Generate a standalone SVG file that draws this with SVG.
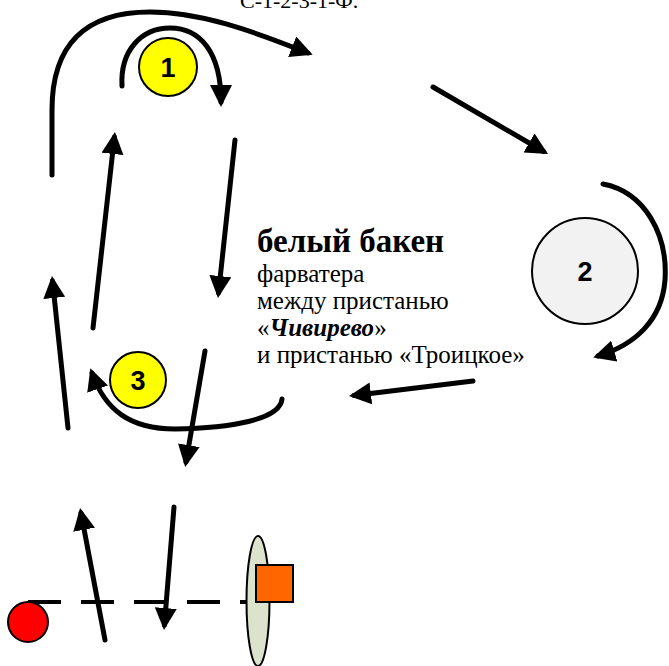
<svg xmlns="http://www.w3.org/2000/svg" width="669" height="666" viewBox="0 0 669 666">
<style>
.c{fill:none;stroke:#000;stroke-width:5;stroke-linecap:round}
.a{marker-end:url(#ah)}
.node{stroke:#000;stroke-width:2}
.num{font-family:"Liberation Sans",Arial,sans-serif;font-weight:bold;text-anchor:middle}
.t{font-family:"Liberation Serif","Times New Roman",serif;fill:#000}
</style>
<defs>
<marker id="ah" markerUnits="userSpaceOnUse" markerWidth="22" markerHeight="22" viewBox="0 0 22 22" refX="17" refY="11" orient="auto">
<path d="M0,0 L22,11 L0,22 z" fill="#000"/>
</marker>
</defs>
<text class="t" x="240" y="8" font-size="22">С-1-2-3-1-Ф.</text>
<g id="connectors">
<path class="c a" d="M52,175 L52,110 C52,45 85,12 150,12 C200,12 250,30 308,53"/>
<path class="c a" d="M122,86 C120,50 142,28 170,28 C200,28 221,52 221,102"/>
<path class="c a" d="M235,140 L218.5,293"/>
<path class="c a" d="M93,328 L114.4,137"/>
<path class="c a" d="M68,428 L52.5,281"/>
<path class="c a" d="M205,351 L186,462"/>
<path class="c a" d="M282,399 C280,420 230,428 175,429 C130,429 105,410 92,373"/>
<path class="c a" d="M603,184 C645,192 668,235 665,280 C662,320 635,345 598,356"/>
<path class="c a" d="M433,87 L543.7,151.5"/>
<path class="c a" d="M473,381 L354,395.4"/>
<path class="c a" d="M105,640 L81,513"/>
<path class="c a" d="M174,507 L164.4,625"/>
<path d="M28,602 L252,602" fill="none" stroke="#000" stroke-width="4" stroke-dasharray="33 20"/>
</g>
<g id="node1">
<circle class="node" cx="168" cy="67" r="29" fill="#ffff00"/>
<text class="num" x="168" y="77" font-size="27">1</text>
</g>
<g id="node2">
<circle class="node" cx="585" cy="271" r="53" fill="#f2f2f2"/>
<text class="num" x="585" y="281" font-size="27">2</text>
</g>
<g id="node3">
<circle class="node" cx="138" cy="380" r="28" fill="#ffff00"/>
<text class="num" x="138" y="390" font-size="27">3</text>
</g>
<g id="label">
<text class="t" x="257" y="252" font-size="33" font-weight="bold">белый бакен</text>
<text class="t" x="257" y="282" font-size="25">фарватера</text>
<text class="t" x="257" y="309" font-size="25">между пристанью</text>
<text class="t" x="257" y="336" font-size="25">«<tspan font-weight="bold" font-style="italic">Чивирево</tspan>»</text>
<text class="t" x="257" y="363" font-size="25">и пристанью «Троицкое»</text>
</g>
<g id="redball">
<circle class="node" cx="28" cy="622" r="20" fill="#ff0000"/>
</g>
<g id="buoy">
<ellipse class="node" cx="258" cy="601" rx="11.5" ry="65" fill="#dde2cd"/>
</g>
<g id="square">
<rect class="node" x="256" y="565" width="37" height="37" fill="#ff6600"/>
</g>
</svg>
